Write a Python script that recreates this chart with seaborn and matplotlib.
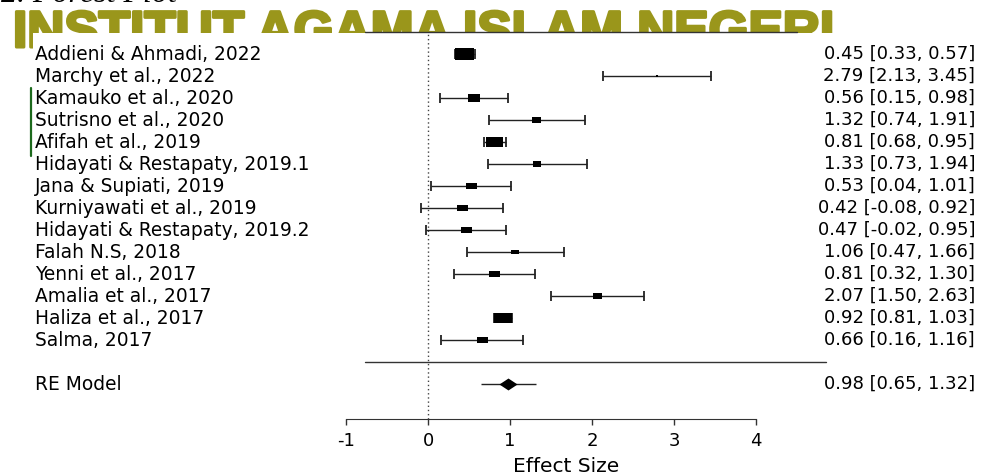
import numpy as np
import pandas as pd
import matplotlib.pyplot as plt
import matplotlib.patheffects as pe
from matplotlib.path import Path
from matplotlib.markers import MarkerStyle
from matplotlib.patches import Rectangle
from matplotlib.lines import Line2D
from matplotlib.transforms import blended_transform_factory
import seaborn as sns

studies = ['Addieni & Ahmadi, 2022', 'Marchy et al., 2022', 'Kamauko et al., 2020',
           'Sutrisno et al., 2020', 'Afifah et al., 2019', 'Hidayati & Restapaty, 2019.1',
           'Jana & Supiati, 2019', 'Kurniyawati et al., 2019', 'Hidayati & Restapaty, 2019.2',
           'Falah N.S, 2018', 'Yenni et al., 2017', 'Amalia et al., 2017',
           'Haliza et al., 2017', 'Salma, 2017']
effect = [0.45, 2.79, 0.56, 1.32, 0.81, 1.33, 0.53, 0.42, 0.47, 1.06, 0.81, 2.07, 0.92, 0.66]
ci_low = [0.33, 2.13, 0.15, 0.74, 0.68, 0.73, 0.04, -0.08, -0.02, 0.47, 0.32, 1.50, 0.81, 0.16]
ci_high = [0.57, 3.45, 0.98, 1.91, 0.95, 1.94, 1.01, 0.92, 0.95, 1.66, 1.30, 2.63, 1.03, 1.16]
# relative weights (%)
weights = [12.0, 1.6, 7.6, 5.7, 10.8, 5.4, 7.0, 7.0, 7.0, 5.1, 7.0, 5.7, 11.4, 7.0]

re_label = 'RE Model'
re_effect = 0.98
re_low = 0.65
re_high = 1.32

x_ticks = [-1, 0, 1, 2, 3, 4]

sns.set_style('white')
plt.rcParams['font.family'] = ['DejaVu Sans']
plt.rcParams['axes.unicode_minus'] = False
plt.rcParams['text.color'] = 'black'
plt.rcParams['axes.labelcolor'] = 'black'
plt.rcParams['xtick.color'] = 'black'

df = pd.DataFrame({'study': studies, 'es': effect, 'lo': ci_low, 'hi': ci_high, 'w': weights})
df['row'] = np.arange(len(df), 0, -1)
re_df = pd.DataFrame({'es': [re_effect], 'row': [-1]})

W, H = 985, 472
fig = plt.figure(figsize=(W / 100, H / 100), dpi=100)
ax = fig.add_axes([346 / W, 1 - 419 / H, 410 / W, 387 / H])
ax.patch.set_alpha(0)

# squashed watermark / page title behind the plot
olive = '#9a961b'
fig.text(1 / W, 1 - 2 / H, '2. Forest Plot', fontsize=23, style='italic',
         family='Liberation Serif', va='baseline', ha='left', zorder=-3)
fig.text(13 / W, 1 - 47 / H, 'INSTITUT AGAMA ISLAM NEGERI', fontsize=37, fontweight='bold',
         family='Liberation Sans', color=olive, va='baseline', ha='left', zorder=-2,
         path_effects=[pe.withStroke(linewidth=2.2, foreground=olive)])
fig.add_artist(Rectangle((33 / W, 0), 1, 1 - 33 / H, transform=fig.transFigure,
                         facecolor='white', edgecolor='none', zorder=-1))
fig.add_artist(Line2D([31 / W, 31 / W], [1 - 88 / H, 1 - 156 / H], transform=fig.transFigure,
                      color='#1d6a1d', lw=1.6, zorder=2))

# markers
box = MarkerStyle(Path([(-1, -0.6), (1, -0.6), (1, 0.6), (-1, 0.6), (-1, -0.6)],
                       [Path.MOVETO, Path.LINETO, Path.LINETO, Path.LINETO, Path.CLOSEPOLY]))
diamond = MarkerStyle(Path([(-1, 0), (0, 0.66), (1, 0), (0, -0.66), (-1, 0)],
                           [Path.MOVETO, Path.LINETO, Path.LINETO, Path.LINETO, Path.CLOSEPOLY]))

ax.errorbar(df['es'], df['row'], xerr=[df['es'] - df['lo'], df['hi'] - df['es']],
            fmt='none', ecolor='#222222', elinewidth=1.0, capsize=3.6, capthick=1.3, zorder=2)
sns.scatterplot(data=df, x='es', y='row', marker=box, s=(df['w'] * 1.1376) ** 2,
                color='black', linewidth=0, ax=ax, zorder=3, legend=False)
ax.hlines(-1, re_low, re_high, color='#222222', lw=1.0, zorder=2)
sns.scatterplot(data=re_df, x='es', y='row', marker=diamond, s=170,
                color='black', linewidth=0, ax=ax, zorder=3, legend=False)

# reference lines
ax.axvline(0, ls=(0, (1, 2)), color='#444444', lw=1.0, zorder=1)
ax.plot([-0.77, 4.5], [15, 15], color='#333333', lw=1.0, clip_on=False)
ax.plot([-0.77, 4.85], [0, 0], color='#333333', lw=1.0, clip_on=False)

# study labels and estimates
tl = blended_transform_factory(fig.transFigure, ax.transData)
for _, r in df.iterrows():
    ax.text(35 / W, r['row'], r['study'], transform=tl, ha='left', va='center', fontsize=13.4)
    ax.text(975 / W, r['row'], f"{r['es']:.2f} [{r['lo']:.2f}, {r['hi']:.2f}]",
            transform=tl, ha='right', va='center', fontsize=13)
ax.text(35 / W, -1, re_label, transform=tl, ha='left', va='center', fontsize=13.4)
ax.text(975 / W, -1, f"{re_effect:.2f} [{re_low:.2f}, {re_high:.2f}]",
        transform=tl, ha='right', va='center', fontsize=13)

ax.set_xlim(-1, 4)
ax.set_ylim(-2.59, 15)
ax.set_xticks(x_ticks)
ax.set_yticks([])
ax.set_ylabel('')
for s in ['left', 'top', 'right']:
    ax.spines[s].set_visible(False)
ax.spines['bottom'].set_bounds(-1, 4)
ax.spines['bottom'].set_color('#333333')
ax.tick_params(axis='x', bottom=True, direction='out', length=4.5, width=1,
               color='#333333', pad=5, labelsize=13)
ax.set_xlabel('Effect Size', fontsize=14.5)
ax.xaxis.set_label_coords(0.536, -0.098)

fig.savefig('out.png', dpi=100)
